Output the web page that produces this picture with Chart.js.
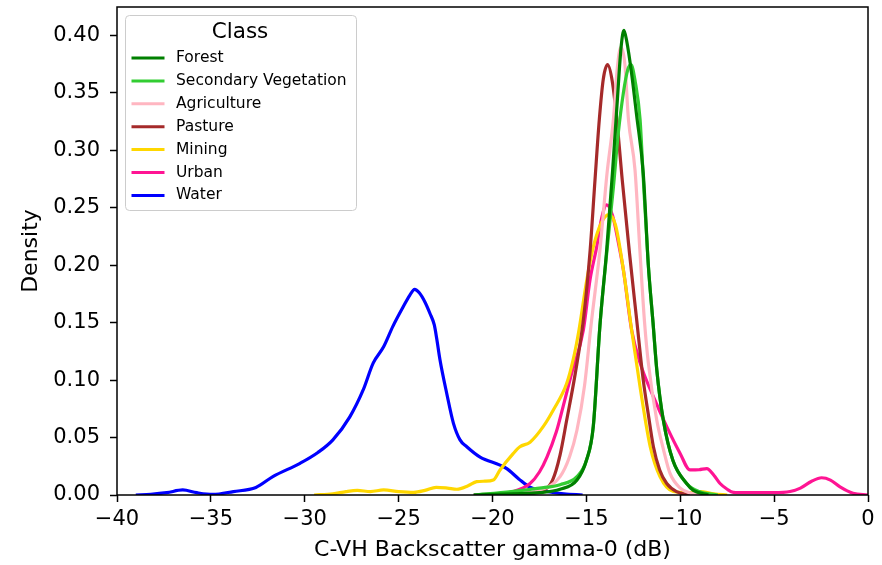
<!DOCTYPE html>
<html><head><meta charset="utf-8">
<script src="https://cdn.jsdelivr.net/npm/chart.js@4.4.1/dist/chart.umd.min.js"></script>
<style>html,body{margin:0;padding:0;background:#fff;}#wrap{width:882px;height:565px;position:relative;}</style>
</head><body><div id="wrap"><canvas id="c" width="882" height="565"></canvas></div>
<script>
// ---- data ----
const classNames = ["Forest","Secondary Vegetation","Agriculture","Pasture","Mining","Urban","Water"];
const classColors = ["#008000","#32CD32","#FFB6C1","#A52A2A","#FFD700","#FF1493","#0000FF"];
const xTicks = [-40,-35,-30,-25,-20,-15,-10,-5,0];
const yTicks = [0,0.05,0.10,0.15,0.20,0.25,0.30,0.35,0.40];

const forestX = [-21,-19,-17.5,-16.4,-15.5,-15.0,-14.63,-14.28,-13.92,-13.6,-13.35,-13.15,-13.0,-12.85,-12.6,-12.32,-11.97,-11.7,-11.45,-11.25,-10.9,-10.39,-9.66,-9.3,-8.5];
const forestY = [0,0.001,0.002,0.005,0.013,0.03,0.06,0.147,0.213,0.283,0.344,0.39,0.4045,0.395,0.368,0.33,0.28,0.2,0.15,0.109,0.065,0.03,0.01,0.004,0];

const secVegX = [-21,-19,-17.5,-16.4,-15.5,-15.0,-14.63,-14.28,-13.92,-13.56,-13.3,-13.03,-12.8,-12.62,-12.4,-12.14,-11.97,-11.7,-11.45,-11.25,-10.9,-10.39,-9.66,-9.0,-8.0];
const secVegY = [0,0.003,0.006,0.009,0.016,0.03,0.06,0.147,0.21,0.268,0.315,0.35,0.37,0.3746,0.36,0.327,0.276,0.2,0.15,0.109,0.065,0.03,0.01,0.003,0];

const agriX = [-20.5,-19,-17.5,-16.4,-15.9,-15.5,-15.1,-14.75,-14.28,-13.9,-13.56,-13.35,-13.16,-12.95,-12.76,-12.41,-12.15,-11.9,-11.7,-11.25,-10.9,-10.55,-10,-9.5,-8.5];
const agriY = [0,0.001,0.004,0.016,0.033,0.0566,0.095,0.148,0.213,0.28,0.327,0.372,0.39,0.375,0.327,0.283,0.213,0.15,0.115,0.065,0.04,0.019,0.006,0.002,0];

const pastureX = [-20,-18.5,-17.3,-16.8,-16.4,-16.05,-15.6,-15.16,-14.8,-14.54,-14.31,-14.1,-13.87,-13.62,-13.38,-13.09,-12.7,-12.32,-11.97,-11.7,-11.43,-11.1,-10.72,-10.2,-9.5];
const pastureY = [0,0.001,0.004,0.013,0.035,0.065,0.105,0.1524,0.213,0.2744,0.327,0.362,0.3746,0.36,0.327,0.2744,0.21,0.1524,0.1,0.07,0.042,0.022,0.01,0.003,0];

const miningX = [-29.5,-28.5,-27.8,-27.2,-26.5,-25.8,-25,-24.2,-23.6,-23,-22.4,-21.9,-21.3,-20.84,-20.4,-19.96,-19.6,-18.9,-18.54,-18,-17.3,-16.76,-16.05,-15.7,-15.4,-14.98,-14.63,-14.2,-13.8,-13.45,-13.03,-12.59,-12.14,-11.6,-11.08,-10.37,-9.5,-8.95,-8.2,-7.5];
const miningY = [0,0.001,0.003,0.004,0.003,0.0044,0.003,0.0023,0.004,0.0067,0.006,0.005,0.008,0.0116,0.012,0.013,0.0218,0.036,0.042,0.046,0.0595,0.074,0.097,0.118,0.143,0.187,0.216,0.237,0.244,0.235,0.196,0.1437,0.094,0.042,0.016,0.003,0.002,0.003,0.001,0];

const urbanX = [-21,-20,-18.9,-18,-17.5,-17.1,-16.6,-16.24,-15.8,-15.16,-14.81,-14.45,-14.2,-13.92,-13.6,-13.3,-13.03,-12.59,-12.14,-11.43,-10.72,-10.0,-9.48,-9.0,-8.59,-8.2,-7.88,-7.5,-7.17,-6.5,-5.93,-5,-4.15,-3.6,-3.0,-2.47,-2.0,-1.49,-0.8,0];
const urbanY = [0,0.001,0.003,0.01,0.02,0.033,0.055,0.077,0.105,0.1437,0.187,0.216,0.24,0.2526,0.243,0.22,0.196,0.1437,0.115,0.0856,0.0595,0.036,0.0218,0.022,0.023,0.017,0.01,0.005,0.0023,0.002,0.002,0.002,0.003,0.006,0.012,0.015,0.013,0.007,0.0015,0];

const waterX = [-39,-38.2,-37.35,-36.5,-35.75,-34.9,-33.8,-32.6,-31.7,-30.25,-29.3,-28.5,-27.6,-26.9,-26.35,-25.8,-25.3,-24.75,-24.4,-24.15,-23.9,-23.6,-23.33,-23.1,-22.97,-22.8,-22.44,-22.08,-21.73,-21.37,-20.66,-19.6,-19.24,-18.6,-18,-17.1,-16.2,-15.2];
const waterY = [0,0.0006,0.002,0.0044,0.002,0.0005,0.003,0.0066,0.016,0.0276,0.037,0.048,0.068,0.091,0.115,0.129,0.147,0.164,0.174,0.179,0.176,0.168,0.158,0.148,0.136,0.118,0.0886,0.0624,0.048,0.042,0.033,0.026,0.023,0.014,0.0067,0.003,0.001,0];

const seriesX = [forestX, secVegX, agriX, pastureX, miningX, urbanX, waterX];
const seriesY = [forestY, secVegY, agriY, pastureY, miningY, urbanY, waterY];

// ---- chart ----
const FONT = '"DejaVu Sans", sans-serif';
const datasets = classNames.map((name, i) => ({
  label: name,
  data: seriesX[i].map((x, j) => ({x: x, y: seriesY[i][j]})),
  borderColor: classColors[i],
  backgroundColor: classColors[i],
  borderWidth: 3.2,
  pointRadius: 0,
  fill: false,
  cubicInterpolationMode: 'monotone',
  tension: 0.4
}));

const fmtX = v => (v < 0 ? '\u2212' + Math.abs(v) : String(v));

const framePlugin = {
  id: 'frame',
  afterDatasetsDraw(chart) {
    const {ctx, chartArea: a} = chart;
    ctx.save();
    ctx.strokeStyle = '#000';
    ctx.lineWidth = 1.5;
    ctx.strokeRect(a.left, a.top, a.right - a.left, a.bottom - a.top);
    ctx.restore();
  }
};

const legendPlugin = {
  id: 'boxLegend',
  afterDraw(chart) {
    const {ctx, chartArea: a} = chart;
    const bx = a.left + 8.5, by = a.top + 8.5, bw = 231, bh = 195, r = 4;
    ctx.save();
    ctx.beginPath();
    ctx.moveTo(bx + r, by);
    ctx.arcTo(bx + bw, by, bx + bw, by + bh, r);
    ctx.arcTo(bx + bw, by + bh, bx, by + bh, r);
    ctx.arcTo(bx, by + bh, bx, by, r);
    ctx.arcTo(bx, by, bx + bw, by, r);
    ctx.closePath();
    ctx.fillStyle = 'rgba(255,255,255,0.8)';
    ctx.fill();
    ctx.strokeStyle = '#cccccc';
    ctx.lineWidth = 1;
    ctx.stroke();
    ctx.fillStyle = '#000';
    ctx.textBaseline = 'middle';
    ctx.textAlign = 'center';
    ctx.font = '21.5px ' + FONT;
    ctx.fillText('Class', bx + bw / 2 - 1, by + 16.5);
    ctx.textAlign = 'left';
    ctx.font = '15.5px ' + FONT;
    chart.data.datasets.forEach((ds, i) => {
      const y = by + 42.5 + i * 22.9;
      ctx.strokeStyle = ds.borderColor;
      ctx.lineWidth = 3;
      ctx.beginPath();
      ctx.moveTo(bx + 6, y);
      ctx.lineTo(bx + 39, y);
      ctx.stroke();
      ctx.fillStyle = '#000';
      ctx.fillText(ds.label, bx + 50.5, y);
    });
    ctx.restore();
  }
};

new Chart(document.getElementById('c'), {
  type: 'line',
  data: {datasets},
  options: {
    responsive: false,
    animation: false,
    devicePixelRatio: 1,
    layout: {padding: {left: 0, right: 14, top: 7, bottom: 0}},
    plugins: {legend: {display: false}, tooltip: {enabled: false}},
    scales: {
      x: {
        type: 'linear',
        min: -40, max: 0,
        afterFit: s => { s.height = 70; s.paddingLeft = 0; s.paddingRight = 0; },
        afterBuildTicks: s => { s.ticks = xTicks.map(v => ({value: v})); },
        ticks: {font: {family: FONT, size: 21}, color: '#000', padding: 5, maxRotation: 0, autoSkip: false,
                callback: v => fmtX(v)},
        grid: {drawOnChartArea: false, drawTicks: true, tickLength: 7, tickColor: '#000', tickWidth: 1.5},
        border: {display: false},
        title: {display: true, text: 'C-VH Backscatter gamma-0 (dB)', font: {family: FONT, size: 22}, color: '#000', padding: {top: 0, bottom: 2}}
      },
      y: {
        type: 'linear',
        min: 0, max: 0.4248,
        afterFit: s => { s.width = 117; s.paddingTop = 0; s.paddingBottom = 0; },
        afterBuildTicks: s => { s.ticks = yTicks.map(v => ({value: v})); },
        ticks: {font: {family: FONT, size: 21}, color: '#000', padding: 10, autoSkip: false,
                callback: v => Number(v).toFixed(2)},
        grid: {drawOnChartArea: false, drawTicks: true, tickLength: 7, tickColor: '#000', tickWidth: 1.5},
        border: {display: false},
        title: {display: true, text: 'Density', font: {family: FONT, size: 22}, color: '#000', padding: {top: 18, bottom: 0}}
      }
    }
  },
  plugins: [framePlugin, legendPlugin]
});
</script></body></html>
